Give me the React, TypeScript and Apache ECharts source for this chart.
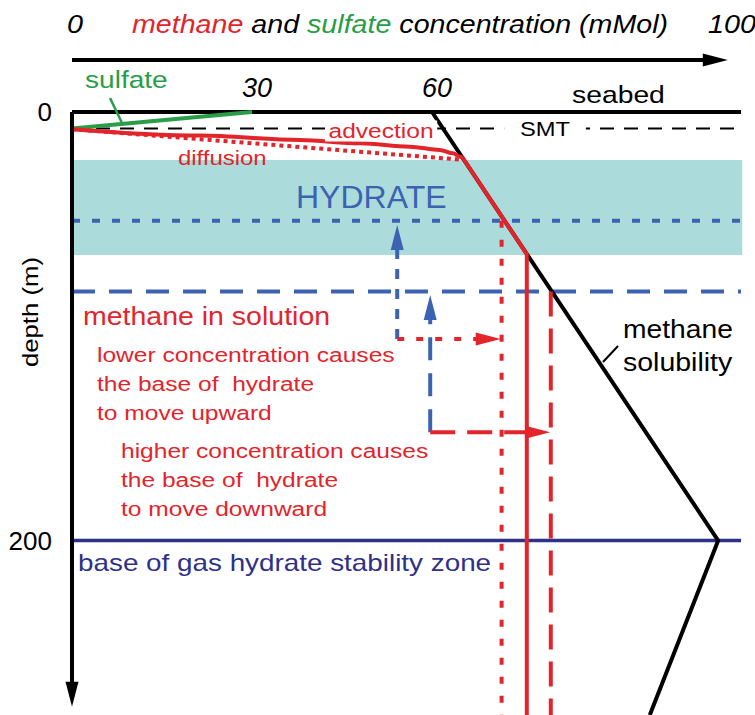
import React, { useEffect, useRef } from "react";
import * as echarts from "echarts";

// ---------- data (concentration in mMol, depth in m) ----------
const seabedTickValues = [30, 60];
const depthTickValues = [0, 200];
const topAxisLabels = ["0", "100"];

const lineExtent = [0, 111.5];
const seabedDepth = 0;
const smtDepth = 7.7;
const hydrateTop = 22.4;
const hydrateBase = 66.7;
const upperBaseDepth = 50.7; // base of hydrate moved upward
const lowerBaseDepth = 83.8; // base of hydrate moved downward
const bghszDepth = 200;

const sulfateProfile = [[0, 7.7], [30, 0]];
const methaneAdvection = [
  [0, 8.0], [21.3, 11.0], [38, 13.1], [48, 14.6], [56.3, 16.2],
  [61.3, 17.7], [63.5, 19.3], [64.7, 20.9], [65.2, 21.7],
];
const methaneDiffusion = [[0, 8.0], [64.7, 22.2]];
const methaneInHydrateAndSolution = [[65.2, 21.7], [75.8, 66.3], [75.8, 285]];
const methaneSolubility = [[60, 0], [107.7, 200], [96.3, 281.4]];
const lowerConcentration = [[71.6, 50.7], [71.6, 285]];
const higherConcentration = [[79.8, 83.8], [79.8, 285]];

// arrows: [fromConc, fromDepth, toConc, toDepth]
const depthAxisArrow = [0, 0, 0, 277.5];
const concAxisArrow = [0, -24.3, 109.3, -24.3];
const upwardShiftArrow = [54.2, 105.9, 54.2, 52.7];
const lowerConcArrow = [54.2, 105.9, 71.45, 105.9];
const downwardShiftArrow = [59.7, 149.5, 59.7, 85.4];
const higherConcArrow = [59.7, 149.5, 79.7, 149.5];

// ---------- styles ----------
const RED = "#e3242b";
const GREEN = "#2a9d48";
const BLUE = "#3c63b2";
const NAVY = "#2e3189";
const TEAL = "#abdcdb";
const FONT = "'Liberation Sans', Arial, Helvetica, sans-serif";

function hline(depth: number) {
  return [[lineExtent[0], depth], [lineExtent[1], depth]];
}

function lineSeries(data: number[][], color: string, width: number, type: any = "solid", z = 3, extra: any = {}) {
  return {
    type: "line",
    data,
    symbol: "none",
    clip: false,
    silent: true,
    z,
    lineStyle: { color, width, type, cap: "butt" },
    ...extra,
  };
}

function arrowSeries(arrow: number[], color: string, dash: number[] | null, z = 6) {
  return {
    type: "custom",
    coordinateSystem: "cartesian2d",
    clip: false,
    silent: true,
    z,
    data: [arrow],
    renderItem: (params: any, api: any) => {
      const a = api.coord([api.value(0), api.value(1)]);
      const b = api.coord([api.value(2), api.value(3)]);
      const dx = b[0] - a[0];
      const dy = b[1] - a[1];
      const len = Math.hypot(dx, dy) || 1;
      const ux = dx / len;
      const uy = dy / len;
      const L = 25;
      const W = 13;
      const bx = b[0] - ux * L;
      const by = b[1] - uy * L;
      const nx = -uy;
      const ny = ux;
      return {
        type: "group",
        children: [
          {
            type: "line",
            shape: { x1: a[0], y1: a[1], x2: bx + ux * 2, y2: by + uy * 2 },
            style: { stroke: color, lineWidth: 4, lineDash: dash, fill: null },
          },
          {
            type: "polygon",
            shape: {
              points: [
                [b[0], b[1]],
                [bx + (nx * W) / 2, by + (ny * W) / 2],
                [bx - (nx * W) / 2, by - (ny * W) / 2],
              ],
            },
            style: { fill: color, stroke: null },
          },
        ],
      };
    },
  };
}

function txt(text: string, x: number, y: number, o: any = {}) {
  const align = o.align ?? "left";
  return {
    type: "text",
    x,
    y,
    scaleX: o.sx ?? 1.15,
    rotation: o.rotation ?? 0,
    z: 100,
    silent: true,
    style: {
      text,
      fill: o.color ?? "#000",
      fontSize: o.size ?? 24,
      fontFamily: FONT,
      fontStyle: o.italic ? "italic" : "normal",
      textAlign: align,
      align,
      textVerticalAlign: "middle",
      verticalAlign: "middle",
      lineHeight: o.lineHeight,
      backgroundColor: o.bg,
      padding: o.padding,
      rich: o.rich,
    },
  };
}

export default function App() {
  const ref = useRef<HTMLDivElement>(null);

  useEffect(() => {
    if (!ref.current) return;
    const chart = echarts.init(ref.current, null, { renderer: "svg" });

    const option: any = {
      animation: false,
      backgroundColor: "#fff",
      grid: { left: 72, top: 112, width: 672, height: 600, outerBoundsMode: "none", containLabel: false },
      xAxis: {
        type: "value",
        position: "top",
        min: 0,
        max: 112,
        interval: 30,
        axisLine: { show: false },
        axisTick: { show: false },
        splitLine: { show: false },
        axisLabel: {
          formatter: (v: number) => (seabedTickValues.includes(v) ? String(v) : ""),
          fontStyle: "italic",
          fontSize: 27,
          fontFamily: FONT,
          color: "#000",
          margin: 11,
          padding: [0, 0, 0, 10],
        },
      },
      yAxis: {
        type: "value",
        inverse: true,
        min: 0,
        max: 280,
        interval: 200,
        axisLine: { show: false },
        axisTick: { show: false },
        splitLine: { show: false },
        axisLabel: {
          formatter: (v: number) => (depthTickValues.includes(v) ? String(v) : ""),
          fontSize: 26,
          fontFamily: FONT,
          color: "#000",
          margin: 20,
        },
      },
      series: [
        lineSeries(hline(seabedDepth), "#000", 4, "solid", 1, {
          markArea: {
            silent: true,
            itemStyle: { color: TEAL },
            data: [[{ coord: [0, hydrateTop] }, { coord: [111.7, hydrateBase] }]],
          },
        }),
        lineSeries(hline(smtDepth), "#000", 2, [14, 10], 2),
        lineSeries(hline(upperBaseDepth), BLUE, 4, [8, 12], 2),
        lineSeries(hline(lowerBaseDepth), BLUE, 4, [23, 14], 2),
        lineSeries(hline(bghszDepth), NAVY, 3.5, "solid", 2),
        lineSeries(methaneSolubility, "#000", 4, "solid", 3),
        lineSeries(sulfateProfile, GREEN, 4, "solid", 4),
        lineSeries(methaneDiffusion, RED, 4, [4, 4], 4),
        lineSeries(methaneAdvection, RED, 4, "solid", 5, { smooth: 0.35, smoothMonotone: "x" }),
        lineSeries(methaneInHydrateAndSolution, RED, 4, "solid", 5),
        lineSeries(lowerConcentration, RED, 4, [7, 12], 4),
        lineSeries(higherConcentration, RED, 4, [25, 12], 4),
        arrowSeries(depthAxisArrow, "#000", null),
        arrowSeries(concAxisArrow, "#000", null),
        arrowSeries(upwardShiftArrow, BLUE, [10, 10]),
        arrowSeries(lowerConcArrow, RED, [7, 12]),
        arrowSeries(downwardShiftArrow, BLUE, [23, 13]),
        arrowSeries(higherConcArrow, RED, [25, 12]),
      ],
      graphic: [
        txt(topAxisLabels[0], 75, 25, { italic: true, size: 25, align: "center" }),
        txt("{r|methane} and {g|sulfate} concentration (mMol)", 132, 25, {
          italic: true,
          size: 25,
          sx: 1.145,
          rich: {
            r: { fill: RED, fontSize: 25, fontFamily: FONT, fontStyle: "italic" },
            g: { fill: GREEN, fontSize: 25, fontFamily: FONT, fontStyle: "italic" },
          },
        }),
        txt(topAxisLabels[1], 708, 25, { italic: true, size: 25 }),
        txt("sulfate", 85, 80, { color: GREEN, size: 24, sx: 1.17 }),
        txt("seabed", 572, 95, { size: 24, sx: 1.18 }),
        txt("advection", 325, 131, { color: RED, size: 21, sx: 1.17, bg: "#fff", padding: [0, 3] }),
        txt("SMT", 545, 129, { size: 21, sx: 1.13, align: "center", bg: "#fff", padding: [0, 14] }),
        txt("diffusion", 178, 158, { color: RED, size: 21, sx: 1.14 }),
        txt("HYDRATE", 296, 197, { color: BLUE, size: 32, sx: 1.0 }),
        txt("depth (m)", 30, 312, { size: 23, sx: 1.12, align: "center", rotation: Math.PI / 2 }),
        txt("methane in solution", 83, 317, { color: RED, size: 25, sx: 1.14 }),
        txt("lower concentration causes\nthe base of  hydrate\nto move upward", 97, 384, {
          color: RED, size: 21, sx: 1.17, lineHeight: 29,
        }),
        txt("higher concentration causes\nthe base of  hydrate\nto move downward", 121, 480, {
          color: RED, size: 21, sx: 1.17, lineHeight: 29,
        }),
        txt("base of gas hydrate stability zone", 78, 563, { color: NAVY, size: 24, sx: 1.16 }),
        txt("methane", 623, 330, { size: 25, sx: 1.13 }),
        txt("solubility", 623, 363, { size: 25, sx: 1.14 }),
        {
          type: "line",
          z: 100,
          silent: true,
          shape: { x1: 110, y1: 98, x2: 122, y2: 123 },
          style: { stroke: GREEN, lineWidth: 2.5 },
        },
        {
          type: "line",
          z: 100,
          silent: true,
          shape: { x1: 603, y1: 362, x2: 618, y2: 346 },
          style: { stroke: "#000", lineWidth: 2 },
        },
      ],
    };

    chart.setOption(option);
    return () => chart.dispose();
  }, []);

  return (
    <div
      ref={ref}
      style={{ position: "absolute", left: 0, top: 0, width: 755, height: 715, background: "#fff" }}
    />
  );
}
